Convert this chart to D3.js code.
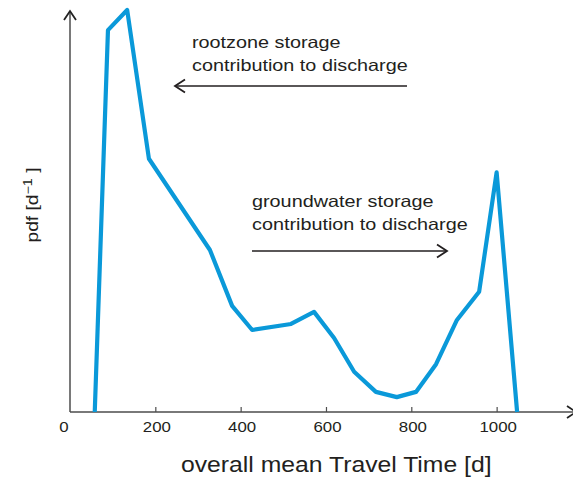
<!DOCTYPE html>
<html>
<head>
<meta charset="utf-8">
<script src="https://cdn.jsdelivr.net/npm/d3@7/dist/d3.min.js"></script>
<style>
  html, body { margin: 0; padding: 0; background: #fff; }
  svg { display: block; }
  text { font-family: "Liberation Sans", Arial, Helvetica, sans-serif; }
</style>
</head>
<body>
<svg id="chart" width="573" height="480"></svg>
<script>
// Travel time (days) and relative pdf value of the travel time distribution
const travelTime = [58, 89, 134, 185, 328, 380, 427, 518, 572, 619, 666, 717, 766, 811, 858, 907, 959, 1000, 1048];
const pdfValue   = [0, 0.95, 1.0, 0.630, 0.403, 0.264, 0.204, 0.219, 0.249, 0.184, 0.100, 0.050, 0.037, 0.050, 0.119, 0.229, 0.299, 0.596, 0];
const xTicks = [0, 200, 400, 600, 800, 1000];

const svg = d3.select("#chart");
const x = d3.scaleLinear().domain([0, 1179]).range([70, 573]);
const y = d3.scaleLinear().domain([0, 1]).range([412, 10]);

const axisColor = "#4d4d4d";
const textColor = "#231f20";
const wide = 1.16; // the typeface is set a little wider than plain Arial

// widen glyphs of a text element horizontally
function widen(sel, k) {
  sel.each(function () {
    const len = this.getComputedTextLength();
    d3.select(this).attr("textLength", len * k).attr("lengthAdjust", "spacingAndGlyphs");
  });
}

// x axis with inward ticks
const xAxis = svg.append("g")
  .attr("transform", "translate(0,412)")
  .call(d3.axisBottom(x).tickValues(xTicks).tickSize(-5).tickPadding(0).tickFormat(d3.format("d")));
xAxis.select(".domain").remove();
xAxis.selectAll(".tick line").attr("stroke", axisColor).attr("stroke-width", 1.2);
xAxis.selectAll(".tick line").filter(d => d === 0).remove();
xAxis.selectAll(".tick text")
  .attr("fill", textColor)
  .attr("font-size", 14.5)
  .attr("font-family", "Liberation Sans, Arial, sans-serif")
  .attr("y", 20)
  .attr("dy", 0)
  .attr("x", d => d === 0 ? -6.5 : 1);
widen(xAxis.selectAll(".tick text"), wide);

// axis lines with open arrowheads
svg.append("line")
  .attr("x1", x(0)).attr("x2", x(0)).attr("y1", 412).attr("y2", 11)
  .attr("stroke", axisColor).attr("stroke-width", 1.5);
svg.append("path")
  .attr("d", `M${x(0) - 6},${20} L${x(0)},${11} L${x(0) + 6},${20}`)
  .attr("fill", "none").attr("stroke", "#222").attr("stroke-width", 1.8);

svg.append("line")
  .attr("x1", x(0)).attr("x2", 573).attr("y1", 412).attr("y2", 412)
  .attr("stroke", axisColor).attr("stroke-width", 1.5);
svg.append("path")
  .attr("d", `M${567},${406} L${576},${412} L${567},${418}`)
  .attr("fill", "none").attr("stroke", "#222").attr("stroke-width", 1.8);

// pdf curve
const line = d3.line().x((d, i) => x(travelTime[i])).y(d => y(d)).curve(d3.curveLinear);
svg.append("path")
  .datum(pdfValue)
  .attr("d", line)
  .attr("fill", "none")
  .attr("stroke", "#0a99d9")
  .attr("stroke-width", 4.2)
  .attr("stroke-linejoin", "round");

// axis titles
const xt = svg.append("text")
  .attr("x", 181).attr("y", 472)
  .attr("font-size", 21.5)
  .attr("fill", textColor)
  .text("overall mean Travel Time [d]");
widen(xt, 1.15);

const yl = svg.append("text")
  .attr("transform", "translate(38,205) rotate(-90) scale(1.2,1)")
  .attr("text-anchor", "middle")
  .attr("font-size", 16)
  .attr("fill", textColor);
yl.append("tspan").text("pdf [d");
yl.append("tspan").attr("dy", -6).attr("font-size", 12).text("\u22121");
yl.append("tspan").attr("dy", 6).text(" ]");

// annotations: two text lines above a horizontal arrow
function note(lines, tx, ty, ax1, ax2, ay, dir) {
  lines.forEach((s, i) => {
    const ln = svg.append("text")
      .attr("x", tx).attr("y", ty + i * 22.5)
      .attr("font-size", 16.5).attr("fill", textColor)
      .text(s);
    widen(ln, 1.2);
  });
  svg.append("line").attr("x1", ax1).attr("x2", ax2).attr("y1", ay).attr("y2", ay)
    .attr("stroke", "#231f20").attr("stroke-width", 1.3);
  const tip = dir < 0 ? ax1 : ax2;
  svg.append("path")
    .attr("d", `M${tip - dir * 10},${ay - 6.5} L${tip},${ay} L${tip - dir * 10},${ay + 6.5}`)
    .attr("fill", "none").attr("stroke", "#231f20").attr("stroke-width", 1.8);
}
note(["rootzone storage", "contribution to discharge"], 192, 48, 175, 407, 86, -1);
note(["groundwater storage", "contribution to discharge"], 252, 207, 252, 447, 251, 1);
</script>
</body>
</html>
